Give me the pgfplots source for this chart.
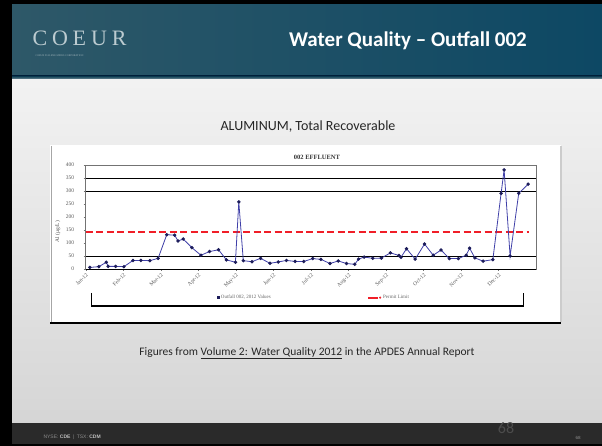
\documentclass[border=0pt]{standalone}
\usepackage{pgfplots}
\pgfplotsset{compat=1.18}
\usepackage{fontspec}
\setmainfont{Carlito}
\newfontfamily\serifA{Liberation Serif}
\newfontfamily\coeurfont[LetterSpace=22]{Liberation Serif}
\newfontfamily\footfont{Liberation Sans}
\definecolor{hdrL}{HTML}{2E5868}
\definecolor{hdrR}{HTML}{0D4864}
\definecolor{coeurc}{HTML}{BCCBD0}
\definecolor{ftr}{HTML}{2A2A2A}
\definecolor{serln}{HTML}{4040A8}
\definecolor{sermk}{HTML}{1C1C5A}
\definecolor{redlimit}{HTML}{F01E28}
\begin{document}
\begin{tikzpicture}[x=1pt,y=1pt]
\useasboundingbox (0,0) rectangle (602,446);
% slide frame
\fill[black] (0,0) rectangle (602,446);
% content background
\shade[top color=black!5, bottom color=black!17] (12,2) rectangle (602,367);
% header
\shade[left color=hdrL, right color=hdrR] (12,367) rectangle (602,441);
\shade[top color=hdrR!80!black, bottom color=hdrL!70!white] (12,367) rectangle (602,370);
% footer
\fill[ftr] (12,2) rectangle (602,23);
% logo
\node[font=\coeurfont\fontsize{22}{22}\selectfont, text=coeurc, anchor=west] at (29,408) {COEUR};
\node[font=\serifA\fontsize{2.6}{3}\selectfont, text=coeurc!80!hdrL, anchor=west] at (32,390) {COEUR D'ALENE MINES CORPORATION};
% title
\node[font=\bfseries\fontsize{21}{24}\selectfont, text=white] at (408,405) {Water Quality -- Outfall 002};
% subtitle
\node[font=\fontsize{14}{16}\selectfont, text=black!85] at (308,446-127) {ALUMINUM, Total Recoverable};
% chart picture box
\fill[white] (50,446-323) rectangle (561,446-145);
\draw[black!35, line width=1pt] (51,446-322) -- (51,446-146);
\draw[black!20, line width=1.5pt] (561,446-322) -- (561,446-146);
\draw[black, line width=2pt] (50,446-323.5) -- (561,446-323.5);
% legend bracket
\draw[black, line width=1.3pt] (91.7,446-293) -- (91.7,446-306) -- (523.3,446-306) -- (523.3,446-293);
% chart title
\node[font=\serifA\bfseries\fontsize{6.5}{7}\selectfont, text=black!80] at (317,446-157) {002 EFFLUENT};
% caption
\node[font=\fontsize{11.5}{13}\selectfont, text=black!85] at (307,446-353) {Figures from \underline{Volume 2: Water Quality 2012} in the APDES Annual Report};
% footer texts
\node[font=\footfont\fontsize{5}{6}\selectfont, text=black!45, anchor=west] at (40,446-437.5) {NYSE: \textbf{\textcolor{black!25}{CDE}}\enspace|\enspace TSX: \textbf{\textcolor{black!25}{CDM}}};
\node[font=\fontsize{16}{18}\selectfont, text=black!70] at (506,446-428) {68};
\node[font=\footfont\fontsize{4.5}{5}\selectfont, text=black!45] at (578,446-437.5) {68};
\begin{axis}[
  at={(85.7pt,177pt)}, anchor=south west,
  scale only axis, width=450.3pt, height=104pt,
  xmin=0, xmax=12, ymin=0, ymax=400,
  xtick={0,...,11},
  xticklabels={Jan-12,Feb-12,Mar-12,Apr-12,May-12,Jun-12,Jul-12,Aug-12,Sep-12,Oct-12,Nov-12,Dec-12},
  ytick={0,50,...,400},
  axis line style={draw=black!55, line width=0.5pt},
  tick style={draw=black!55, line width=0.4pt},
  major tick length=2pt,
  tick align=outside, tick pos=left,
  tick label style={font=\serifA\fontsize{5.5}{6}\selectfont, text=black!65},
  x tick label style={rotate=45, anchor=north east, inner sep=1pt},
  yticklabel style={xshift=-6pt},
  /pgf/number format/assume math mode=true,
  ylabel={Al (µg/L)},
  ylabel style={at={(axis description cs:-0.062,0.36)}, anchor=center, font=\serifA\fontsize{5.5}{6}\selectfont, text=black!70},
  clip=false,
  legend style={at={(axis description cs:0.507,-0.275)}, anchor=center, draw=none, fill=none,
    font=\serifA\fontsize{5}{5}\selectfont, text=black!60, legend columns=2,
    /tikz/every even column/.append style={column sep=95pt}},
]
\addplot[black, line width=0.9pt, forget plot] coordinates {(0,50) (12,50)};
\addplot[black, line width=0.9pt, forget plot] coordinates {(0,300) (12,300)};
\addplot[black, line width=0.9pt, forget plot] coordinates {(0,350) (12,350)};
\addplot[black, line width=0.9pt, forget plot] coordinates {(0,0) (12,0)};
\addplot[draw=redlimit, line width=1.6pt, forget plot, dash pattern=on 7pt off 3.5pt] coordinates {(0,143) (11.8,143)};
\addplot[serln, line width=0.8pt, mark=*, mark size=1.3pt, mark options={fill=sermk, draw=sermk, solid}, forget plot] coordinates {
(0.11,6) (0.35,9) (0.55,26) (0.60,10) (0.80,10) (1.02,9) (1.26,33) (1.47,33) (1.71,32) (1.93,41)
(2.16,132) (2.37,130) (2.46,108) (2.60,115) (2.83,82) (3.07,53) (3.30,67) (3.54,74) (3.75,35) (3.99,26)
(4.08,258) (4.20,32) (4.43,28) (4.66,41) (4.91,22) (5.13,27) (5.35,33) (5.58,29) (5.81,29) (6.05,40)
(6.27,37) (6.51,21) (6.73,31) (6.95,21) (7.17,18) (7.27,38) (7.42,46) (7.65,41) (7.88,42) (8.12,62)
(8.35,52) (8.40,45) (8.55,78) (8.78,38) (9.03,96) (9.26,53) (9.47,73) (9.69,40) (9.93,40) (10.14,53)
(10.23,80) (10.37,43) (10.59,30) (10.85,36) (11.07,291) (11.15,381) (11.31,50) (11.54,291) (11.79,326)
};
\addlegendimage{only marks, mark=square*, mark size=0.9pt, color=sermk}
\addlegendentry{Outfall 002, 2012 Values}
\addlegendimage{legend image code/.code={\fill[redlimit] (0pt,-0.8pt) rectangle (9pt,0.8pt); \fill[redlimit] (12pt,0pt) circle (0.9pt);}}
\addlegendentry{Permit Limit}
\end{axis}
\end{tikzpicture}
\end{document}
